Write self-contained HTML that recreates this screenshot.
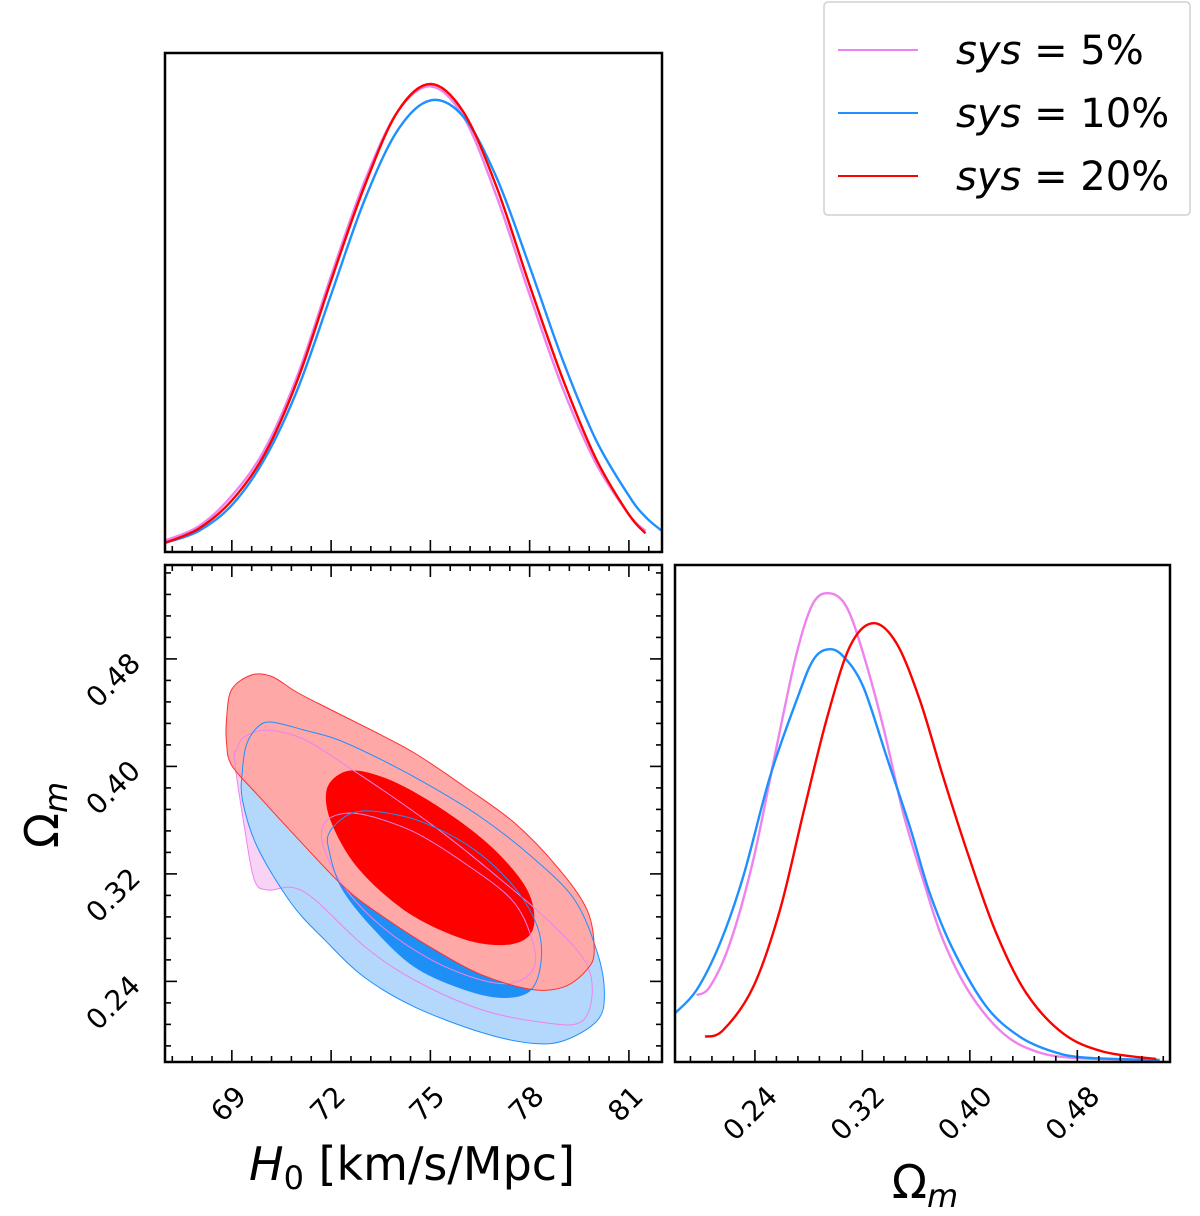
<!DOCTYPE html>
<html><head><meta charset="utf-8"><style>
html,body{margin:0;padding:0;background:#fff;}
svg{display:block;font-family:"DejaVu Sans","Liberation Sans",sans-serif;}
</style></head><body>
<svg id="fig" width="1200" height="1216" viewBox="0 0 1200 1216" xmlns="http://www.w3.org/2000/svg"></svg>
<script>
// ---- data ----
const h0Grid = [67,68,69,70,71,72,73,74,75,76,77,78,79,80,81,81.5,82];
const h0Pink = [0.025,0.055,0.12,0.22,0.38,0.59,0.79,0.94,0.995,0.93,0.76,0.55,0.35,0.19,0.08,0.045];
const h0Blue = [0.020,0.045,0.10,0.20,0.35,0.55,0.75,0.90,0.965,0.93,0.80,0.61,0.41,0.24,0.12,0.075,0.045];
const h0Red  = [0.02,0.05,0.11,0.21,0.37,0.58,0.78,0.94,1.0,0.94,0.78,0.57,0.37,0.20,0.08,0.04];

const omPinkX = [0.1966,0.2065,0.2214,0.2388,0.2561,0.2710,0.2834,0.2958,0.3082,0.3206,0.3355,0.3504,0.3652,0.3801,0.40,0.4248,0.4496,0.4793,0.5388];
const omPinkY = [0.139,0.157,0.25,0.429,0.671,0.871,0.979,1.0,0.971,0.871,0.714,0.529,0.386,0.257,0.143,0.057,0.018,0.004,0.0];
const omBlueX = [0.1805,0.1966,0.214,0.2313,0.2512,0.271,0.2834,0.2946,0.3057,0.3206,0.338,0.3553,0.3702,0.3876,0.4124,0.4372,0.462,0.4868,0.5413];
const omBlueY = [0.10,0.15,0.25,0.393,0.607,0.771,0.857,0.88,0.865,0.80,0.65,0.5,0.357,0.236,0.114,0.05,0.018,0.005,0.0];
const omRedX = [0.2028,0.2164,0.2388,0.2586,0.276,0.2933,0.3107,0.328,0.3454,0.3628,0.3801,0.40,0.4198,0.4421,0.4694,0.4992,0.5388];
const omRedY = [0.05,0.064,0.157,0.321,0.529,0.729,0.886,0.936,0.893,0.771,0.607,0.429,0.271,0.143,0.057,0.018,0.002];

// contour polygons [H0, Om]
const pinkOuter = [[69.38,0.422],[70.08,0.427],[71.19,0.420],[72.49,0.400],[74.0,0.375],[75.51,0.348],[77.02,0.318],[78.53,0.286],[79.65,0.256],[79.89,0.231],[79.56,0.210],[78.53,0.209],[76.54,0.219],[74.52,0.241],[73.01,0.266],[71.50,0.301],[70.80,0.310],[70.08,0.308],[69.68,0.3155],[69.38,0.355],[69.08,0.405],[69.14,0.412]];
const blueOuter = [[69.32,0.397],[69.44,0.416],[69.77,0.429],[70.20,0.433],[71.19,0.427],[72.19,0.420],[73.52,0.405],[75.03,0.385],[76.54,0.362],[78.05,0.333],[79.35,0.301],[80.05,0.261],[80.26,0.231],[80.05,0.211],[79.05,0.196],[78.05,0.194],[76.54,0.202],[74.52,0.221],[73.01,0.243],[71.80,0.271],[70.80,0.298],[69.77,0.340],[69.32,0.375]];
const redOuter = [[68.84,0.435],[68.99,0.457],[69.59,0.468],[70.20,0.467],[70.98,0.455],[72.01,0.442],[73.22,0.427],[74.52,0.410],[76.03,0.385],[77.54,0.358],[78.84,0.325],[79.74,0.293],[79.95,0.263],[79.74,0.249],[79.05,0.236],[78.05,0.234],[76.54,0.245],[75.03,0.265],[73.52,0.289],[72.40,0.310],[71.04,0.345],[69.77,0.379],[68.99,0.401],[68.84,0.418]];
const blueInner = [[71.95,0.351],[72.61,0.365],[73.52,0.366],[74.82,0.358],[76.33,0.338],[77.54,0.310],[78.23,0.281],[78.35,0.256],[78.05,0.234],[77.24,0.228],[76.03,0.234],[74.52,0.251],[73.22,0.281],[72.31,0.310],[71.95,0.336]];
const pinkInner = [[71.74,0.355],[72.19,0.364],[73.01,0.364],[74.52,0.351],[76.03,0.328],[77.45,0.301],[78.05,0.273],[78.14,0.251],[77.54,0.239],[76.54,0.241],[75.03,0.256],[73.52,0.281],[72.40,0.310],[71.80,0.338]];
const redInner = [[71.86,0.382],[72.31,0.395],[73.01,0.396],[74.21,0.385],[75.73,0.362],[77.02,0.336],[77.93,0.308],[78.14,0.284],[77.84,0.271],[77.02,0.267],[75.82,0.273],[74.21,0.293],[72.79,0.325],[72.01,0.358]];

const h0Ticks = [69,72,75,78,81];
const h0TickLabels = ["69","72","75","78","81"];
const omTicks = [0.24,0.32,0.40,0.48];
const omTickLabels = ["0.24","0.32","0.40","0.48"];
const legendLabels = ["5%","10%","20%"];

// ---- layout ----
const NS="http://www.w3.org/2000/svg";
const svg=document.getElementById('fig');
function mk(tag,attrs,parent){const e=document.createElementNS(NS,tag);for(const k in attrs)e.setAttribute(k,attrs[k]);(parent||svg).appendChild(e);return e;}

const P1={l:165,r:662,t:53,b:552};
const P2={l:165,r:662,t:565,b:1062};
const P3={l:675,r:1170,t:565,b:1062};
const H0min=66.98,H0max=82.0;
const OMmin=0.18,OMmax=0.5499;
const OMXmin=0.1805,OMXmax=0.549;
const hx=v=>P2.l+(v-H0min)/(H0max-H0min)*(P2.r-P2.l);
const oy=v=>P2.b-(v-OMmin)/(OMmax-OMmin)*(P2.b-P2.t);
const ox=v=>P3.l+(v-OMXmin)/(OMXmax-OMXmin)*(P3.r-P3.l);
const d1y=v=>P1.b-v*468;
const d3y=v=>1060-v*466.7;

function smooth(pts,closed){
  const n=pts.length;let d=`M${pts[0][0].toFixed(1)},${pts[0][1].toFixed(1)}`;
  const g=i=>closed?pts[(i+n)%n]:pts[Math.max(0,Math.min(n-1,i))];
  const last=closed?n:n-1;
  for(let i=0;i<last;i++){
    const p0=g(i-1),p1=g(i),p2=g(i+1),p3=g(i+2);
    const c1=[p1[0]+(p2[0]-p0[0])/6,p1[1]+(p2[1]-p0[1])/6];
    const c2=[p2[0]-(p3[0]-p1[0])/6,p2[1]-(p3[1]-p1[1])/6];
    d+=`C${c1[0].toFixed(1)},${c1[1].toFixed(1)} ${c2[0].toFixed(1)},${c2[1].toFixed(1)} ${p2[0].toFixed(1)},${p2[1].toFixed(1)}`;
  }
  return d+(closed?'Z':'');
}

const defs=mk('defs',{});
[['c1',P1],['c2',P2],['c3',P3]].forEach(([id,P])=>{const c=mk('clipPath',{id},defs);mk('rect',{x:P.l,y:P.t,width:P.r-P.l,height:P.b-P.t},c);});

// ---- top panel ----
const g1=mk('g',{'clip-path':'url(#c1)'});


[[h0Pink,'#ee82ee','h0-curve-sys5'],[h0Blue,'#1e90ff','h0-curve-sys10'],[h0Red,'#ff0000','h0-curve-sys20']].forEach(([arr,col,name])=>{
  const pts=arr.map((v,i)=>[hx(h0Grid[i]),d1y(v)]);
  const p=mk('path',{d:smooth(pts,false),fill:'none',stroke:col,'stroke-width':2.4},g1);
  
  
});

// ---- 2D panel ----
const g2=mk('g',{'clip-path':'url(#c2)'});


const cpts=a=>a.map(([h,o])=>[hx(h),oy(o)]);
const fills=[[pinkOuter,'#f9d3f6','pink-2sigma-fill'],[blueOuter,'#b4d8fc','blue-2sigma-fill'],[blueInner,'#1e8ff5','blue-1sigma-fill'],[redOuter,'#ffa8a8','red-2sigma-fill'],[redInner,'#ff0000','red-1sigma-fill']];
fills.forEach(([a,col,name])=>{
  const p=mk('path',{d:smooth(cpts(a),true),fill:col,stroke:'none'},g2);
  
  
});
const lines=[[pinkOuter,'#ee82ee','pink-2sigma-line'],[pinkInner,'#ee82ee','pink-1sigma-line'],[blueOuter,'#1e90ff','blue-2sigma-line'],[blueInner,'#1e90ff','blue-1sigma-line'],[redOuter,'#ff3030','red-2sigma-line']];
lines.forEach(([a,col,name])=>{
  const p=mk('path',{d:smooth(cpts(a),true),fill:'none',stroke:col,'stroke-width':1},g2);
  
  
});

// ---- right panel ----
const g3=mk('g',{'clip-path':'url(#c3)'});


[[omPinkX,omPinkY,'#ee82ee','om-curve-sys5'],[omBlueX,omBlueY,'#1e90ff','om-curve-sys10'],[omRedX,omRedY,'#ff0000','om-curve-sys20']].forEach(([xs,ys,col,name])=>{
  const pts=xs.map((x,i)=>[ox(x),d3y(ys[i])]);
  const p=mk('path',{d:smooth(pts,false),fill:'none',stroke:col,'stroke-width':2.4},g3);
  
  
});

// ---- frames & ticks ----
function frame(P,name){
  const r=mk('rect',{x:P.l,y:P.t,width:P.r-P.l,height:P.b-P.t,fill:'none',stroke:'#000','stroke-width':2.5});
  
  
}
frame(P1,'top-panel-frame');frame(P2,'joint-panel-frame');frame(P3,'right-panel-frame');

function tick(x1,y1,x2,y2,w){mk('line',{x1,y1,x2,y2,stroke:'#000','stroke-width':w||1.6});}
const h0Minor=[];for(let v=66.6;v<=82.0;v+=0.6){if(v>=H0min-1e-6)h0Minor.push(v);}
h0Minor.forEach(v=>{const x=hx(v);const major=h0Ticks.some(t=>Math.abs(t-v)<1e-3);const L=major?12:6;
  tick(x,P1.b,x,P1.b-L);tick(x,P2.b,x,P2.b-L);tick(x,P2.t,x,P2.t+L);});
const omMinor=[];for(let v=0.176;v<=0.55;v+=0.016){if(v>=OMmin-1e-6)omMinor.push(v);}
omMinor.forEach(v=>{const y=oy(v);const major=omTicks.some(t=>Math.abs(t-v)<1e-3);const L=major?12:6;
  tick(P2.l,y,P2.l+L,y);tick(P2.r,y,P2.r-L,y);});
const omxMinor=[];for(let v=0.176;v<=0.55;v+=0.016){if(v>=OMXmin-1e-6)omxMinor.push(v);}
omxMinor.forEach(v=>{const x=ox(v);const major=omTicks.some(t=>Math.abs(t-v)<1e-3);const L=major?12:6;tick(x,P3.b,x,P3.b-L);});

// tick labels
h0Ticks.forEach((v,i)=>{const x=hx(v)+16,y=1098;
  const t=mk('text',{x,y,'font-size':28,'text-anchor':'end',transform:`rotate(-45 ${x} ${y})`});t.textContent=h0TickLabels[i];
  
  });
omTicks.forEach((v,i)=>{const x=ox(v)+24,y=1098;
  const t=mk('text',{x,y,'font-size':28,'text-anchor':'end',transform:`rotate(-45 ${x} ${y})`});t.textContent=omTickLabels[i];
  
  });
omTicks.forEach((v,i)=>{const x=142,y=oy(v)+6;
  const t=mk('text',{x,y,'font-size':28,'text-anchor':'end',transform:`rotate(-45 ${x} ${y})`});t.textContent=omTickLabels[i];
  
  });

// axis titles
let t=mk('text',{x:412,y:1180,'font-size':46,'text-anchor':'middle'});
t.innerHTML='<tspan font-style="italic">H</tspan><tspan font-size="32" dy="9">0</tspan><tspan dy="-9"> [km/s/Mpc]</tspan>';


t=mk('text',{x:925,y:1198,'font-size':46,'text-anchor':'middle'});
t.innerHTML='Ω<tspan font-style="italic" font-size="32" dy="9">m</tspan>';


t=mk('text',{x:58,y:815,'font-size':46,'text-anchor':'middle',transform:'rotate(-90 58 815)'});
t.innerHTML='Ω<tspan font-style="italic" font-size="32" dy="9">m</tspan>';



// legend
const lg=mk('g',{});


mk('rect',{x:824,y:2,width:366,height:213,rx:4,fill:'#fff',stroke:'#d0d0d0','stroke-width':1.5},lg);
['#ee82ee','#1e90ff','#ff0000'].forEach((col,i)=>{
  const y=50+i*63;
  const e=mk('g',{},lg);
  
  
  mk('line',{x1:838,y1:y,x2:918,y2:y,stroke:col,'stroke-width':2},e);
  const tx=mk('text',{x:956,y:y+14,'font-size':40},e);
  tx.innerHTML='<tspan font-style="italic">sys</tspan> = '+legendLabels[i];
});
</script>
</body></html>
